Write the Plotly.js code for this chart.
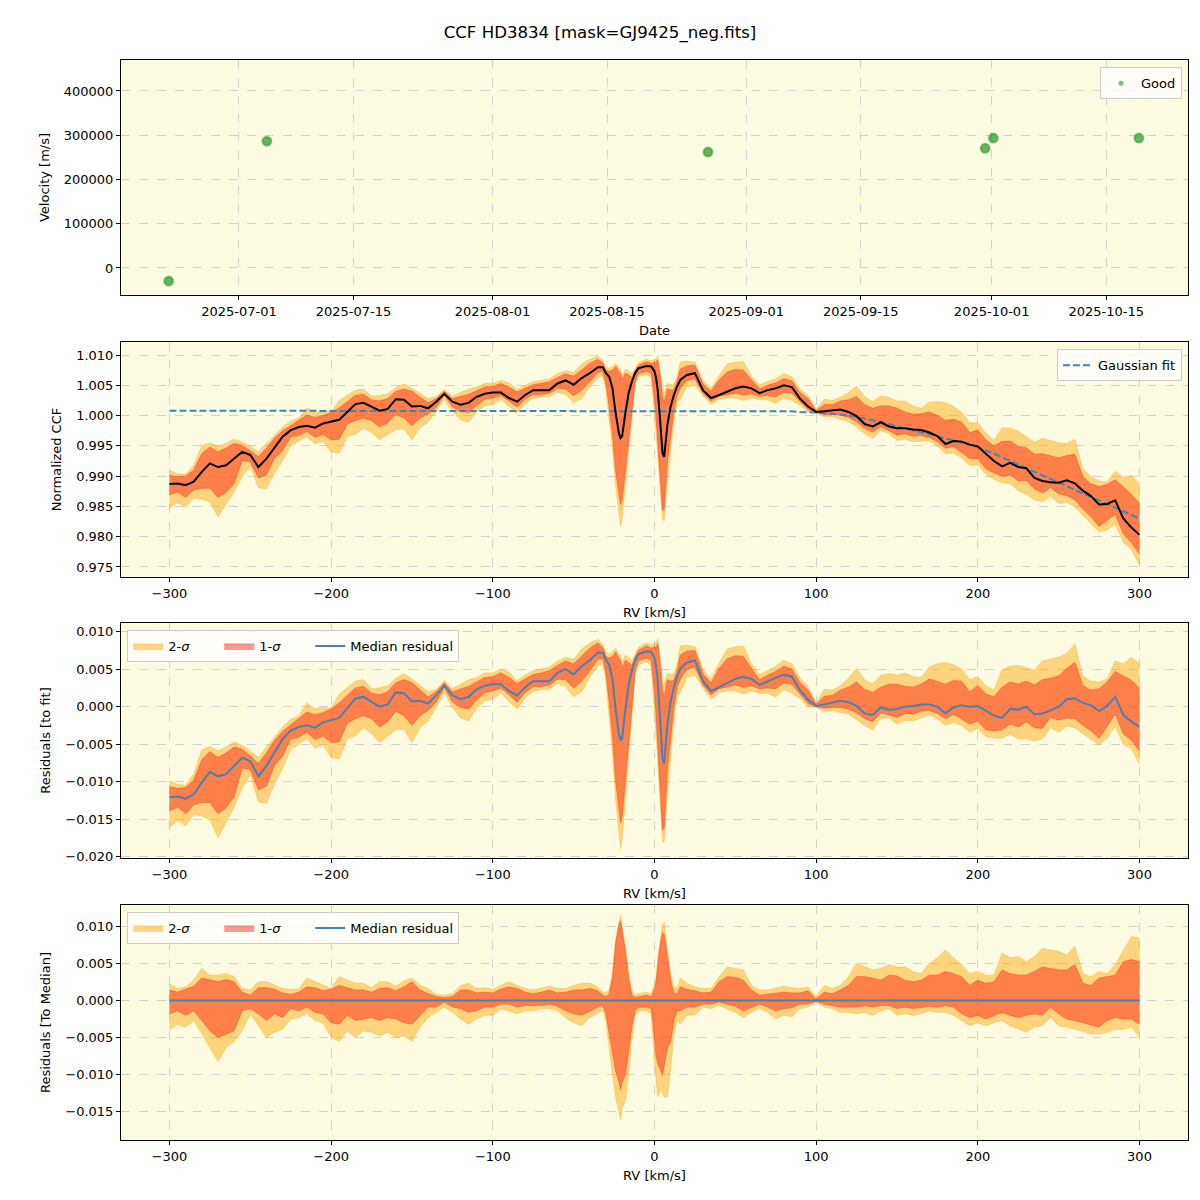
<!DOCTYPE html>
<html>
<head>
<meta charset="utf-8">
<script src="https://cdn.plot.ly/plotly-3.0.1.min.js"></script>
<style>html,body{margin:0;padding:0;background:#fff;} #chart{width:1200px;height:1200px;}</style>
</head>
<body>
<div id="chart"></div>
<script>
// ---- Panel 1: RV time series ----
const obsDates = ['2025-06-22 10:00', '2025-07-04 10:00', '2025-08-27 08:00', '2025-09-30 05:00', '2025-10-01 05:00', '2025-10-19 00:00'];
const obsVelocity = [-29500, 286500, 262000, 270500, 293500, 293500];
const dateTicks = ['2025-07-01', '2025-07-15', '2025-08-01', '2025-08-15', '2025-09-01', '2025-09-15', '2025-10-01', '2025-10-15'];

// ---- Panels 2-4: CCF profile (RV grid in km/s) ----
const rv = [-300,-295,-290,-285,-280,-275,-270,-265,-260,-255,
  -250,-245,-240,-235,-230,-225,-220,-215,-210,-205,
  -200,-195,-190,-185,-180,-175,-170,-165,-160,-155,
  -150,-145,-140,-135,-130,-125,-120,-115,-110,-105,
  -100,-95,-90,-85,-80,-75,-70,-65,-60,-55,
  -50,-45,-40,-35,
  -32,-30,-28,-26,-24,-22,-21,-20,-18,-16,-14,-12,-10,
  -5,-2,0,1,2,3,4,5,6,7,8,
  10,12,14,16,20,
  25,30,35,40,45,50,55,60,
  65,70,75,80,85,90,95,100,105,110,
  115,120,125,130,135,140,145,150,155,160,
  165,170,175,180,185,190,195,200,205,210,
  215,220,225,230,235,240,245,250,255,260,
  265,270,275,280,285,290,295,300];

// median normalized CCF
const ccfMedian = [0.9887,0.9888,0.9885,0.9891,0.9907,0.9921,0.9915,0.9918,0.9929,0.9940,
  0.9935,0.9915,0.9929,0.9948,0.9965,0.9976,0.9981,0.9983,0.9980,0.9987,
  0.9990,0.9993,1.0006,1.0019,1.0021,1.0015,1.0008,1.0011,1.0027,1.0026,
  1.0015,1.0016,1.0012,1.0023,1.0036,1.0023,1.0018,1.0021,1.0031,1.0036,
  1.0038,1.0038,1.0029,1.0023,1.0034,1.0042,1.0042,1.0042,1.0053,1.0058,
  1.0051,1.0062,1.0070,1.0080,
  1.0080,1.0070,1.0064,1.0045,1.0004,0.9971,0.9963,0.9966,1.0004,1.0037,1.0056,1.0070,1.0078,
  1.0082,1.0081,1.0073,1.0062,1.0042,1.0009,0.9976,0.9938,0.9932,0.9960,0.9985,
  1.0015,1.0034,1.0048,1.0059,1.0067,
  1.0070,1.0042,1.0029,1.0034,1.0040,1.0045,1.0048,1.0045,
  1.0037,1.0042,1.0045,1.0050,1.0047,1.0028,1.0015,1.0006,1.0007,1.0009,
  1.0010,1.0006,0.9999,0.9986,0.9982,0.9989,0.9982,0.9979,0.9979,0.9977,
  0.9976,0.9972,0.9966,0.9953,0.9958,0.9957,0.9952,0.9949,0.9937,0.9925,
  0.9916,0.9922,0.9915,0.9913,0.9897,0.9892,0.9890,0.9889,0.9893,0.9888,
  0.9876,0.9867,0.9853,0.9854,0.9860,0.9830,0.9815,0.9803];

// Gaussian fit curve
const gaussFit = [1.0008,1.0008,1.0008,1.0008,1.0008,1.0008,1.0008,1.0008,1.0008,1.0008,
  1.0008,1.0008,1.0008,1.0008,1.0008,1.0008,1.0008,1.0008,1.0008,1.0008,
  1.0008,1.0008,1.0008,1.0008,1.0008,1.0008,1.0008,1.0008,1.0008,1.0008,
  1.0008,1.0008,1.0008,1.0008,1.0008,1.0008,1.0008,1.0008,1.0008,1.0008,
  1.0008,1.0008,1.0008,1.0008,1.0008,1.0008,1.0008,1.0008,1.0008,1.0008,
  1.0008,1.0008,1.0008,1.0008,
  1.0008,1.0008,1.0008,1.0008,1.0008,1.0008,1.0008,1.0008,1.0008,1.0008,1.0008,1.0008,1.0008,
  1.0008,1.0008,1.0008,1.0008,1.0008,1.0008,1.0008,1.0008,1.0008,1.0008,1.0008,
  1.0008,1.0008,1.0008,1.0008,1.0008,
  1.0008,1.0008,1.0008,1.0008,1.0008,1.0008,1.0008,1.0008,
  1.0008,1.0008,1.0007,1.0007,1.0007,1.0006,1.0006,1.0005,1.0004,1.0003,
  1.0002,1.0000,0.9998,0.9995,0.9993,0.9990,0.9986,0.9982,0.9979,0.9976,
  0.9973,0.9969,0.9966,0.9962,0.9959,0.9955,0.9952,0.9948,0.9943,0.9937,
  0.9931,0.9925,0.9919,0.9913,0.9907,0.9901,0.9895,0.9889,0.9883,0.9877,
  0.9871,0.9865,0.9859,0.9853,0.9847,0.9841,0.9835,0.9830];

// percentile band offsets from the median (units of 1e-3)
const sig2Upper = [2.2,1.6,1.8,2.7,4.3,3.4,3.4,3.6,3.2,1.6,
  1.4,2.5,2.5,2.0,1.6,1.5,1.5,3.0,2.5,2.0,
  1.6,3.2,2.7,2.3,2.3,1.7,2.5,2.5,1.9,2.6,
  3.0,2.0,1.6,0.8,0.7,0.9,2.0,2.3,1.6,1.7,
  1.5,2.0,2.5,2.0,1.6,1.4,1.6,1.9,1.6,1.6,
  2.0,2.3,2.3,1.8,
  1.1,1.0,1.4,3.6,8.2,10.7,11.4,10.0,7.3,3.6,1.4,0.7,0.9,
  1.1,0.9,2.0,3.0,5.7,7.3,8.6,10.2,10.5,8.6,6.8,
  3.6,1.8,1.6,3.0,2.3,
  1.8,1.6,1.6,3.2,4.5,4.3,4.1,2.0,
  1.4,1.4,1.6,1.9,1.7,1.6,1.8,0.5,2.0,1.6,
  2.0,3.2,5.0,4.5,4.1,4.3,4.8,4.5,4.5,3.9,
  3.6,5.0,5.7,6.8,5.7,4.8,3.6,3.9,3.4,3.4,
  6.4,5.7,5.9,5.2,5.9,7.0,6.8,6.6,6.1,7.3,
  3.6,3.2,3.9,3.6,4.8,6.8,8.6,8.4];
const sig1Upper = [1.4,1.1,1.5,1.9,3.0,2.7,2.5,2.8,2.5,1.1,
  0.7,1.7,1.7,1.5,1.0,0.8,1.1,1.8,1.7,1.3,
  1.5,2.0,1.7,1.4,1.4,1.1,1.6,1.7,1.3,1.8,
  2.5,1.4,0.9,0.5,0.4,0.5,1.4,1.4,1.0,1.1,
  1.0,1.5,1.8,1.6,1.1,0.9,1.1,1.4,1.0,1.1,
  1.4,1.4,1.6,1.3,
  0.7,0.5,0.9,3.0,7.7,10.2,10.7,9.3,6.6,3.0,0.7,0.4,0.5,
  0.7,0.5,1.5,2.5,5.0,6.6,8.0,9.1,8.9,7.3,5.9,
  2.7,0.9,0.9,1.8,1.5,
  1.3,1.0,1.1,2.5,3.2,3.1,2.7,1.4,
  0.7,0.8,0.9,1.1,1.0,1.0,1.3,0.2,1.1,0.9,
  1.4,2.0,3.2,3.2,3.0,2.7,3.4,3.3,2.7,2.5,
  2.7,3.4,3.4,3.9,3.6,3.2,2.0,2.7,2.3,2.5,
  4.1,3.6,3.4,3.4,3.9,4.5,4.3,4.1,4.1,4.8,
  2.3,2.0,3.0,3.2,3.4,5.2,5.5,5.2];
// lower offsets of the CCF percentiles (panels 2-3)
const sig1Lower = [-1.8,-1.4,-2.0,-1.4,-2.7,-4.1,-5.0,-4.5,-4.1,-1.4,
  -1.1,-1.8,-2.7,-1.8,-2.3,-1.1,-1.4,-0.9,-1.6,-1.8,
  -3.0,-3.2,-2.0,-2.7,-2.5,-2.3,-2.7,-2.3,-2.5,-3.0,
  -3.2,-2.0,-0.9,-0.9,-0.2,-0.9,-1.1,-1.6,-1.4,-0.9,
  -0.9,-0.5,-0.5,-0.9,-0.7,-0.7,-0.7,-0.5,-0.8,-1.4,
  -1.8,-2.0,-1.4,-0.9,
  -0.7,-1.8,-5.0,-7.5,-9.5,-10.5,-11.0,-10.5,-9.5,-7.0,-4.0,-1.4,-0.9,
  -0.9,-1.1,-4.5,-6.5,-8.0,-8.5,-9.0,-9.5,-8.5,-7.0,-6.0,
  -5.0,-2.7,-1.4,-1.4,-0.9,
  -0.9,-0.5,-0.5,-0.2,-0.5,-0.8,-1.4,-0.9,
  -0.5,-0.9,-1.4,-1.1,-1.0,-0.5,-0.5,-0.1,-0.5,-0.7,
  -0.9,-0.9,-0.9,-0.7,-0.9,-0.7,-0.7,-1.1,-0.9,-1.1,
  -0.9,-0.8,-0.9,-0.7,-0.9,-1.8,-2.3,-2.0,-2.5,-2.0,
  -1.6,-2.0,-2.3,-2.0,-1.8,-2.0,-0.9,-1.8,-2.5,-2.7,
  -3.0,-3.4,-3.6,-2.7,-2.3,-2.5,-2.5,-3.2];
const sig2Lower = [-4.0,-3.2,-3.6,-2.7,-4.5,-6.4,-8.2,-6.4,-5.5,-4.1,
  -1.8,-3.4,-5.0,-4.3,-3.9,-2.5,-2.3,-1.8,-2.7,-3.0,
  -5.0,-5.5,-4.1,-5.0,-4.1,-4.3,-4.8,-4.3,-5.0,-4.8,
  -5.5,-3.6,-2.3,-1.6,-0.9,-1.6,-2.5,-3.2,-2.5,-2.0,
  -2.0,-1.1,-1.4,-1.8,-1.4,-1.4,-1.1,-1.1,-1.4,-2.3,
  -3.0,-3.4,-2.3,-1.8,
  -1.4,-2.7,-7.0,-10.0,-12.0,-13.5,-14.5,-13.5,-12.0,-9.0,-5.5,-2.0,-1.4,
  -1.4,-1.8,-6.5,-9.0,-10.5,-11.0,-11.0,-11.0,-10.5,-10.0,-9.5,
  -7.5,-4.5,-2.7,-3.2,-2.0,
  -2.0,-0.9,-1.1,-0.7,-1.1,-1.6,-2.3,-1.6,
  -1.1,-1.6,-2.5,-2.0,-2.2,-1.1,-0.9,-0.2,-0.9,-1.1,
  -1.6,-1.6,-1.8,-1.6,-2.0,-1.4,-1.1,-2.0,-1.8,-2.0,
  -1.8,-1.4,-1.6,-1.6,-2.0,-2.7,-3.4,-3.0,-3.4,-3.0,
  -2.7,-3.4,-3.9,-4.3,-3.6,-3.4,-2.3,-3.4,-3.6,-3.9,
  -4.1,-4.5,-4.5,-4.3,-3.9,-3.9,-3.6,-5.0];
// lower percentiles of the residuals to the median (panel 4)
const resSig1Lower = [-1.8,-1.4,-2.0,-1.4,-2.7,-4.1,-5.0,-4.5,-4.1,-1.4,
  -1.1,-1.8,-2.7,-1.8,-2.3,-1.1,-1.4,-0.9,-1.6,-1.8,
  -3.0,-3.2,-2.0,-2.7,-2.5,-2.3,-2.7,-2.3,-2.5,-3.0,
  -3.2,-2.0,-0.9,-0.9,-0.2,-0.9,-1.1,-1.6,-1.4,-0.9,
  -0.9,-0.5,-0.5,-0.9,-0.7,-0.7,-0.7,-0.5,-0.8,-1.4,
  -1.8,-2.0,-1.4,-0.9,
  -0.7,-1.8,-4.5,-6.8,-9.5,-11.0,-12.0,-11.0,-10.0,-6.8,-3.6,-1.4,-0.9,
  -0.9,-1.1,-5.0,-7.5,-8.5,-9.0,-9.5,-10.0,-8.8,-7.3,-6.4,
  -5.5,-2.7,-1.4,-1.4,-0.9,
  -0.9,-0.5,-0.5,-0.2,-0.5,-0.8,-1.4,-0.9,
  -0.5,-0.9,-1.4,-1.1,-1.0,-0.5,-0.5,-0.1,-0.5,-0.7,
  -0.9,-0.9,-0.9,-0.7,-0.9,-0.7,-0.7,-1.1,-0.9,-1.1,
  -0.9,-0.8,-0.9,-0.7,-0.9,-1.8,-2.3,-2.0,-2.5,-2.0,
  -1.6,-2.0,-2.3,-2.0,-1.8,-2.0,-0.9,-1.8,-2.5,-2.7,
  -3.0,-3.4,-3.6,-2.7,-2.3,-2.5,-2.5,-3.2];
const resSig2Lower = [-4.0,-3.2,-3.6,-2.7,-4.5,-6.4,-8.2,-6.4,-5.5,-4.1,
  -1.8,-3.4,-5.0,-4.3,-3.9,-2.5,-2.3,-1.8,-2.7,-3.0,
  -5.0,-5.5,-4.1,-5.0,-4.1,-4.3,-4.8,-4.3,-5.0,-4.8,
  -5.5,-3.6,-2.3,-1.6,-0.9,-1.6,-2.5,-3.2,-2.5,-2.0,
  -2.0,-1.1,-1.4,-1.8,-1.4,-1.4,-1.1,-1.1,-1.4,-2.3,
  -3.0,-3.4,-2.3,-1.8,
  -1.4,-2.7,-6.8,-10.0,-13.0,-15.0,-16.0,-14.5,-13.5,-10.0,-5.0,-2.0,-1.4,
  -1.4,-1.8,-8.0,-11.0,-13.0,-12.5,-12.0,-12.5,-13.0,-13.0,-13.0,
  -9.1,-4.5,-2.7,-3.2,-2.0,
  -2.0,-0.9,-1.1,-0.7,-1.1,-1.6,-2.3,-1.6,
  -1.1,-1.6,-2.5,-2.0,-2.2,-1.1,-0.9,-0.2,-0.9,-1.1,
  -1.6,-1.6,-1.8,-1.6,-2.0,-1.4,-1.1,-2.0,-1.8,-2.0,
  -1.8,-1.4,-1.6,-1.6,-2.0,-2.7,-3.4,-3.0,-3.4,-3.0,
  -2.7,-3.4,-3.9,-4.3,-3.6,-3.4,-2.3,-3.4,-3.6,-3.9,
  -4.1,-4.5,-4.5,-4.3,-3.9,-3.9,-3.6,-5.0];

// ---- derived series ----
const S = 1e-3;
const abs = (off) => ccfMedian.map((m, i) => m + off[i] * S);
const toFit = (arr) => arr.map((v, i) => v - gaussFit[i]);
const scaled = (off) => off.map(v => v * S);

const p2 = {lo2: abs(sig2Lower), hi2: abs(sig2Upper), lo1: abs(sig1Lower), hi1: abs(sig1Upper), med: ccfMedian.slice()};
const p3 = {lo2: toFit(p2.lo2), hi2: toFit(p2.hi2), lo1: toFit(p2.lo1), hi1: toFit(p2.hi1), med: toFit(p2.med)};
const p4 = {lo2: scaled(resSig2Lower), hi2: scaled(sig2Upper), lo1: scaled(resSig1Lower), hi1: scaled(sig1Upper),
  med: ccfMedian.map((m) => m - m)};

const C2FILL = 'rgba(255,165,0,0.45)';
const C2LINE = 'rgba(255,175,40,0.55)';
const C1FILL = 'rgba(255,0,0,0.40)';
const C1LINE = 'rgba(255,70,40,0.7)';
const MEDBLUE = '#4682b4';
const PAD = '\u00a0\u00a0\u00a0\u00a0\u00a0\u00a0';

function bandTraces(d, xa, ya, legendId, showLeg) {
  return [
    {x: rv, y: d.lo2, xaxis: xa, yaxis: ya, type: 'scatter', mode: 'lines',
     line: {color: C2LINE, width: 0.8}, showlegend: false, hoverinfo: 'skip'},
    {x: rv, y: d.hi2, xaxis: xa, yaxis: ya, type: 'scatter', mode: 'lines', fill: 'tonexty',
     fillcolor: C2FILL, line: {color: C2LINE, width: 0.8}, name: '2-<i>σ</i>' + PAD,
     legend: legendId, showlegend: showLeg},
    {x: rv, y: d.lo1, xaxis: xa, yaxis: ya, type: 'scatter', mode: 'lines',
     line: {color: C1LINE, width: 0.8}, showlegend: false, hoverinfo: 'skip'},
    {x: rv, y: d.hi1, xaxis: xa, yaxis: ya, type: 'scatter', mode: 'lines', fill: 'tonexty',
     fillcolor: C1FILL, line: {color: C1LINE, width: 0.8}, name: '1-<i>σ</i>' + PAD,
     legend: legendId, showlegend: showLeg}
  ];
}

const traces = [];
// panel 1
traces.push({x: obsDates, y: obsVelocity, xaxis: 'x', yaxis: 'y', type: 'scatter', mode: 'markers',
  name: 'Good', legend: 'legend', showlegend: false,
  marker: {size: 9, color: 'rgba(44,160,44,0.75)', line: {color: 'rgba(44,150,44,0.5)', width: 2}}});
// legend-only entry with the small legend marker
traces.push({x: [null], y: [null], xaxis: 'x', yaxis: 'y', type: 'scatter', mode: 'markers',
  name: 'Good', legend: 'legend', showlegend: true,
  marker: {size: 5, color: 'rgba(44,160,44,0.65)'}});
// panel 2
traces.push(...bandTraces(p2, 'x2', 'y2', 'legend2', false));
traces.push({x: rv, y: gaussFit, xaxis: 'x2', yaxis: 'y2', type: 'scatter', mode: 'lines',
  name: 'Gaussian fit', legend: 'legend2', line: {color: '#3a87c0', width: 2, dash: '7px,3px'}});
traces.push({x: rv, y: p2.med, xaxis: 'x2', yaxis: 'y2', type: 'scatter', mode: 'lines',
  showlegend: false, line: {color: '#000000', width: 2}});
// panel 3
traces.push(...bandTraces(p3, 'x3', 'y3', 'legend3', true));
traces.push({x: rv, y: p3.med, xaxis: 'x3', yaxis: 'y3', type: 'scatter', mode: 'lines',
  name: 'Median residual', legend: 'legend3', line: {color: MEDBLUE, width: 2}});
// panel 4
traces.push(...bandTraces(p4, 'x4', 'y4', 'legend4', true));
traces.push({x: rv, y: p4.med, xaxis: 'x4', yaxis: 'y4', type: 'scatter', mode: 'lines',
  name: 'Median residual', legend: 'legend4', line: {color: MEDBLUE, width: 2}});

const FONT = 'DejaVu Sans, sans-serif';
const BG = '#fdfbe2';
function axisBase(extra) {
  return Object.assign({
    showline: true, mirror: true, linecolor: '#000', linewidth: 1,
    ticks: 'outside', ticklen: 4, tickcolor: '#000', tickwidth: 1,
    showgrid: true, gridcolor: '#d2d2d2', griddash: 'dash', gridwidth: 1,
    zeroline: false, tickfont: {family: FONT, size: 13, color: '#000'},
    automargin: false
  }, extra);
}
const XD = [0.1008, 0.99];
function legendBox(x, y, xanchor, orientation) {
  return {x: x, y: y, xanchor: xanchor, yanchor: 'top', orientation: orientation,
    bgcolor: 'rgba(255,255,255,0.8)', bordercolor: '#cccccc', borderwidth: 1,
    font: {family: FONT, size: 13, color: '#000'}, itemwidth: 30, itemsizing: 'trace',
    traceorder: 'normal', tracegroupgap: 0};
}
const xTitle = (t) => ({text: t, font: {family: FONT, size: 13}, standoff: 8});
const yTitle = (t) => ({text: t, font: {family: FONT, size: 13}, standoff: 11});

const layout = {
  width: 1200, height: 1200,
  margin: {l: 0, r: 0, t: 0, b: 0},
  paper_bgcolor: '#ffffff', plot_bgcolor: BG,
  font: {family: FONT, size: 13, color: '#000'},
  title: {text: 'CCF HD3834 [mask=GJ9425_neg.fits]', x: 0.5, xanchor: 'center', y: 0.9733, yanchor: 'middle',
    font: {family: FONT, size: 16.6, color: '#000'}},
  xaxis: axisBase({domain: XD, anchor: 'y', type: 'date', range: ['2025-06-16 14:00', '2025-10-25 00:00'],
    tickvals: dateTicks, tickformat: '%Y-%m-%d', title: xTitle('Date')}),
  yaxis: axisBase({domain: [0.7542, 0.95], anchor: 'x', range: [-61000, 470000], dtick: 100000, tickformat: 'd',
    title: yTitle('Velocity [m/s]')}),
  xaxis2: axisBase({domain: XD, anchor: 'y2', range: [-330, 330], dtick: 100, title: xTitle('RV [km/s]')}),
  yaxis2: axisBase({domain: [0.5192, 0.715], anchor: 'x2', range: [0.97335, 1.01215], dtick: 0.005, tickformat: '.3f',
    title: yTitle('Normalized CCF')}),
  xaxis3: axisBase({domain: XD, anchor: 'y3', range: [-330, 330], dtick: 100, title: xTitle('RV [km/s]')}),
  yaxis3: axisBase({domain: [0.285, 0.4808], anchor: 'x3', range: [-0.0202, 0.01116], dtick: 0.005, tickformat: '.3f',
    title: yTitle('Residuals [to fit]')}),
  xaxis4: axisBase({domain: XD, anchor: 'y4', range: [-330, 330], dtick: 100, title: xTitle('RV [km/s]')}),
  yaxis4: axisBase({domain: [0.05, 0.2458], anchor: 'x4', range: [-0.0188, 0.01284], dtick: 0.005, tickformat: '.3f',
    title: yTitle('Residuals [To Median]')}),
  legend: legendBox(0.985, 0.944, 'right', 'v'),
  legend2: legendBox(0.985, 0.709, 'right', 'v'),
  legend3: legendBox(0.106, 0.475, 'left', 'h'),
  legend4: legendBox(0.106, 0.24, 'left', 'h'),
  showlegend: true
};

Plotly.newPlot('chart', traces, layout, {displayModeBar: false, staticPlot: true});
</script>
</body>
</html>
